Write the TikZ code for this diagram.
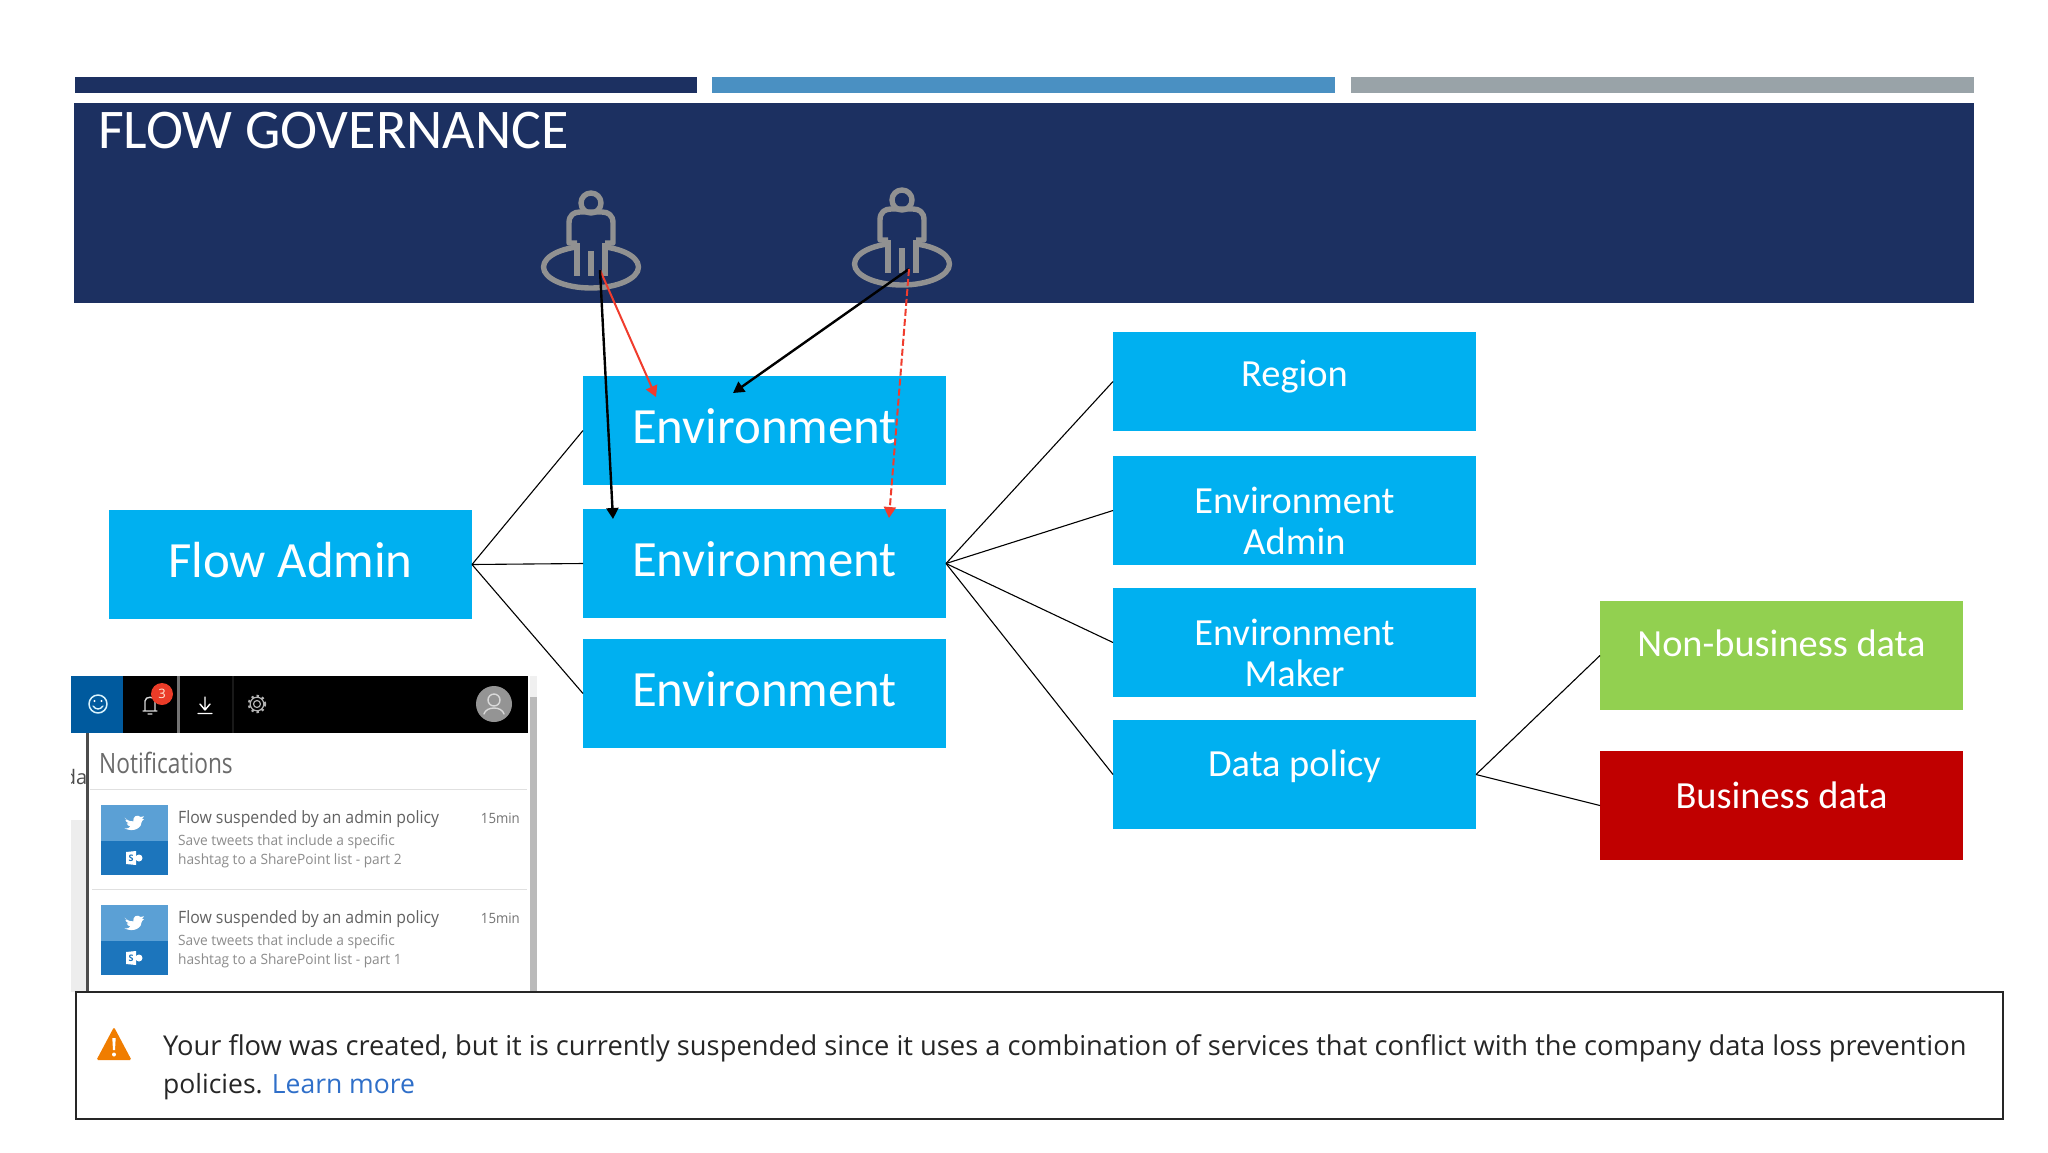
\documentclass[tikz,border=0pt]{standalone}
\usepackage{fontspec}
\setmainfont{Carlito}
\newfontfamily\uifont{Open Sans}
\newfontfamily\uititle[FakeStretch=0.81]{Open Sans}
\newfontfamily\uihead[FakeStretch=0.93]{Open Sans}
\newfontfamily\uisub[FakeStretch=0.965]{Open Sans}
\usetikzlibrary{arrows.meta,calc}
\definecolor{navy}{RGB}{28,48,97}
\definecolor{barblue}{RGB}{74,144,194}
\definecolor{bargrey}{RGB}{153,163,168}
\definecolor{cyanbox}{RGB}{0,176,240}
\definecolor{greenbox}{RGB}{146,208,80}
\definecolor{redbox}{RGB}{192,0,0}
\definecolor{iconbrand}{RGB}{145,145,145}
\definecolor{arrowred}{RGB}{240,60,45}
\definecolor{tilelight}{RGB}{91,160,213}
\definecolor{tiledark}{RGB}{28,117,188}
\definecolor{uiblue}{RGB}{0,90,158}
\definecolor{linkblue}{RGB}{47,111,201}
\definecolor{warnorange}{RGB}{240,125,0}
\definecolor{badgered}{RGB}{235,60,40}
% text with its baseline a given distance below the centre of its box
\newcommand{\basedrop}[2]{\raisebox{-#1pt}[0pt][0pt]{#2}}
\newcommand{\twolines}[3]{\raisebox{-#1pt}[0pt][0pt]{\begin{tabular}{@{}c@{}}#2\\#3\end{tabular}}}
\tikzset{
  x=1pt,y=-1pt,
  box/.style={anchor=center,minimum width=363pt,inner sep=0pt,outer sep=0pt,text=white},
  cyanb/.style={box,fill=cyanbox},
  big/.style={font=\fontsize{50.8}{55}\selectfont},
  mid/.style={font=\fontsize{38.4}{41}\selectfont},
  thinline/.style={black,line width=1.1pt},
  blackarrow/.style={black,line width=2.4pt,-{Triangle[length=11pt,width=12pt]}},
  redarrow/.style={arrowred,line width=2pt,-{Triangle[length=11pt,width=12pt]}},
  iconline/.style={iconbrand,line width=5.4pt,line join=round},
  uiicon/.style={white,line width=1.4pt,line cap=round,line join=round},
  notehead/.style={anchor=base west,inner sep=0,text=black!62,font=\uihead\fontsize{17}{18}\selectfont},
  notesub/.style={anchor=base west,inner sep=0,text=black!45,font=\uisub\fontsize{14.2}{16}\selectfont},
  notetime/.style={anchor=base east,inner sep=0,text=black!55,font=\uihead\fontsize{14.2}{16}\selectfont},
  alerttext/.style={anchor=base west,inner sep=0,text=black!85,font=\uifont\fontsize{27.3}{30}\selectfont},
  personic/.pic={
    \draw[iconline] (0,0) ellipse (47.5 and 21);
    \fill[navy] (-14,-28) rectangle (14,9);
    \draw[iconline] (0,-64) circle (10);
    \draw[iconline] (-14,-24) -- (-22,-24) -- (-22,-44) .. controls (-22,-52) and (-17,-55) .. (-11,-55) -- (11,-55) .. controls (17,-55) and (22,-52) .. (22,-44) -- (22,-24) -- (14,-24);
    \draw[iconline] (-14,-24) -- (-14,9) (14,-24) -- (14,9) (0,-16) -- (0,9);
  },
  birdic/.pic={
    \fill[white,scale=0.72] (-13,-6) .. controls (-7,0) and (-3,-1) .. (-1,-1) .. controls (-2,-8) and (5,-11) .. (9,-7) -- (14,-8) -- (11,-4) -- (14,-4) -- (11,-1) .. controls (11,8) and (0,15) .. (-13,9) .. controls (-8,9) and (-6,8) .. (-5,6) .. controls (-8,6) and (-9,4) .. (-10,2) -- (-7,2) .. controls (-10,1) and (-12,-2) .. (-12,-3) -- (-9,-3) .. controls (-12,-5) and (-13,-5) .. (-13,-6) -- cycle;
  },
  spic/.pic={
    \fill[white] (-8,-6) -- (2,-7) -- (2,7) -- (-8,6) -- cycle;
    \fill[white] (5,0) circle (3.5);
    \node[inner sep=0,text=tiledark,font=\uifont\bfseries\fontsize{9}{9}\selectfont] (#1) at (-3,0) {S};
  },
}
\begin{document}
\begin{tikzpicture}
\useasboundingbox (0,0) rectangle (2048,1152);
\fill[white] (0,0) rectangle (2048,1152);
% header
\fill[navy] (75,77) rectangle (697,93);
\fill[barblue] (712,77) rectangle (1335,93);
\fill[bargrey] (1351,77) rectangle (1974,93);
\fill[navy] (74,103) rectangle (1974,303);
\node[anchor=base west,inner sep=0,text=white,font=\fontsize{56}{60}\selectfont] (title) at (98,148) {FLOW GOVERNANCE};
\pic at (591,267) {personic};
\pic at (902,264) {personic};
% boxes
\node[cyanb,big,minimum height=109pt] (envA) at (764.5,430.5) {\basedrop{12.5}{Environment}};
\node[cyanb,big,minimum height=109pt] (envB) at (764.5,563.5) {\basedrop{12.5}{Environment}};
\node[cyanb,big,minimum height=109pt] (envC) at (764.5,693.5) {\basedrop{12.5}{Environment}};
\node[cyanb,big,minimum height=109pt] (flow) at (290.5,564.5) {\basedrop{12.5}{Flow Admin}};
\node[cyanb,mid,minimum height=99pt] (region) at (1294.5,381.5) {\basedrop{5}{Region}};
\node[cyanb,mid,minimum height=109pt] (envadmin) at (1294.5,510.5) {\twolines{22}{Environment}{Admin}};
\node[cyanb,mid,minimum height=109pt] (envmaker) at (1294.5,642.5) {\twolines{22}{Environment}{Maker}};
\node[cyanb,mid,minimum height=109pt] (datapol) at (1294.5,774.5) {\basedrop{2}{Data policy}};
\node[box,fill=greenbox,mid,minimum height=109pt] (nonbus) at (1781.5,655.5) {\basedrop{1}{Non-business data}};
\node[box,fill=redbox,mid,minimum height=109pt] (bus) at (1781.5,805.5) {\basedrop{3}{Business data}};
% thin connectors
\draw[thinline] (flow.east) -- (envA.west);
\draw[thinline] (flow.east) -- (envB.west);
\draw[thinline] (flow.east) -- (envC.west);
\draw[thinline] (envB.east) -- (region.west);
\draw[thinline] (envB.east) -- (envadmin.west);
\draw[thinline] (envB.east) -- (envmaker.west);
\draw[thinline] (envB.east) -- (datapol.west);
\draw[thinline] (datapol.east) -- (nonbus.west);
\draw[thinline] (datapol.east) -- (bus.west);
% arrows
\coordinate (pA) at (600,270);
\coordinate (pB) at (909,269);
\coordinate (tA) at (656,397);
\coordinate (tB) at (613,519);
\coordinate (tC) at (733,393);
\coordinate (tD) at (889,518);
\draw[redarrow] (pA) -- (tA);
\draw[blackarrow] (pA) -- (tB);
\draw[blackarrow] (pB) -- (tC);
\draw[redarrow,dashed,dash pattern=on 7pt off 3pt] (pB) -- (tD);
% notifications panel
\fill[black!7] (71,820) rectangle (86,992);
\begin{scope}
\clip (71,760) rectangle (87,800);
\node[anchor=base east,inner sep=0,text=black!70,font=\uifont\fontsize{20}{21}\selectfont] (dapart) at (87.5,784) {da};
\end{scope}
\fill[white] (87,733) rectangle (530,992);
\fill[black!70] (86,733) rectangle (89,992);
\fill[black!6] (530,676) rectangle (537,697);
\fill[black!27] (530,697) rectangle (537,992);
\fill[black] (71,676) rectangle (528,733);
\fill[uiblue] (71,676) rectangle (123,733);
\fill[black!55] (177,676) rectangle (180,733);
\fill[black!90] (232,676) rectangle (234,733);
% smile
\draw[uiicon,line width=1.5pt,white!85!cyan] (98,704) circle (9);
\fill[white] (94.5,701) circle (1.1) (101.5,701) circle (1.1);
\draw[uiicon,white!85!cyan] (93,706) .. controls (96,710) and (100,710) .. (103,706);
% bell
\draw[uiicon,black!15] (143,711) -- (157,711) (145,711) -- (145,701) .. controls (145,696) and (155,696) .. (155,701) -- (155,711) (148,714) -- (152,714);
\fill[badgered] (162,694) circle (11);
\node[inner sep=0,text=white!85!orange,font=\uifont\fontsize{13}{13}\selectfont] (badge) at (162,694) {3};
% download
\draw[uiicon] (205,697) -- (205,709) (200,704) -- (205,710) -- (210,704) (198,713.5) -- (212,713.5);
% gear
\draw[black!30,line width=1.2pt] (257,704) circle (3.5) (257,704) circle (6.8);
\draw[black!30,line width=2.5pt,dash pattern=on 2.3pt off 3pt] (257,704) circle (8);
% avatar
\fill[black!42] (494,704) circle (18);
\draw[black!15,line width=1.4pt,line cap=round] (494,700) circle (6) (484,714) .. controls (486,706) and (502,706) .. (504,714);
% notification content
\node[anchor=base west,inner sep=0,text=black!58,font=\uititle\fontsize{28}{29}\selectfont] (nhead) at (99,773) {Notifications};
\draw[black!12,line width=1pt] (90,789) -- (527,789) (92,889) -- (527,889);
\fill[tilelight] (101,805) rectangle (168,841);
\fill[tiledark] (101,841) rectangle (168,875);
\fill[tilelight] (101,905) rectangle (168,941);
\fill[tiledark] (101,941) rectangle (168,975);
\pic at (134,822) {birdic};
\pic at (134,858) {spic=sA};
\pic at (134,922) {birdic};
\pic at (134,958) {spic=sB};
\node[notehead] (h1) at (178,823) {Flow suspended by an admin policy};
\node[notesub] (a1) at (178,845) {Save tweets that include a specific};
\node[notesub] (b1) at (178,864) {hashtag to a SharePoint list - part 2};
\node[notetime] (t1) at (520,823) {15min};
\node[notehead] (h2) at (178,923) {Flow suspended by an admin policy};
\node[notesub] (a2) at (178,945) {Save tweets that include a specific};
\node[notesub] (b2) at (178,964) {hashtag to a SharePoint list - part 1};
\node[notetime] (t2) at (520,923) {15min};
% alert
\draw[black!85,line width=1.5pt,fill=white] (76,992) rectangle (2003,1119);
\fill[warnorange,rounded corners=1.5pt] (114,1027) -- (131.5,1060) -- (96.5,1060) -- cycle;
\fill[white] (112.3,1038) -- (115.7,1038) -- (115,1050) -- (113,1050) -- cycle;
\fill[white] (114,1054.5) circle (2);
\node[alerttext] (al1) at (163,1055) {Your flow was created, but it is currently suspended since it uses a combination of services that conflict with the company data loss prevention};
\node[alerttext,font=\uifont\fontsize{26.5}{30}\selectfont] (al2) at (163,1093) {policies. \textcolor{linkblue}{Learn more}};
\end{tikzpicture}
\end{document}
